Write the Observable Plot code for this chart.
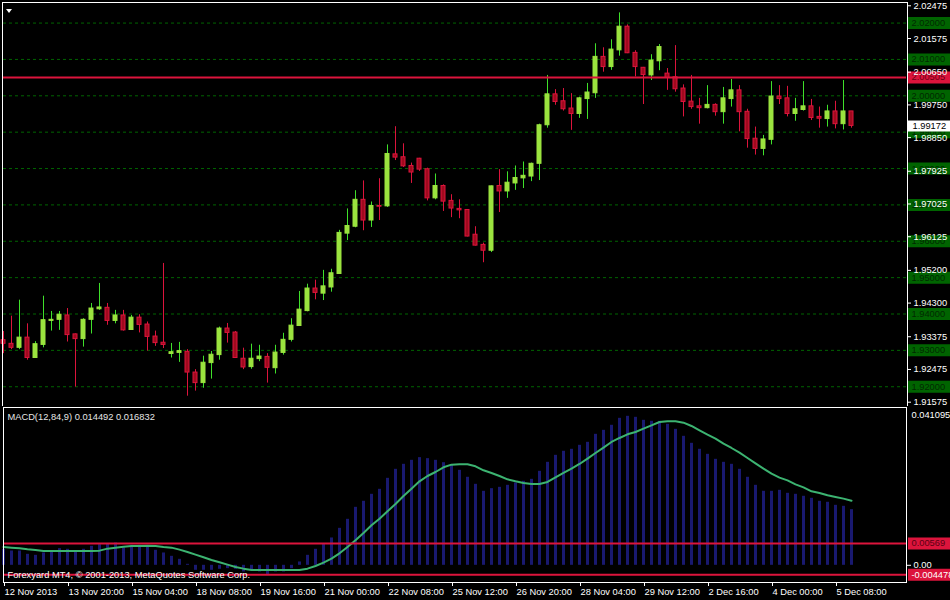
<!DOCTYPE html>
<html><head><meta charset="utf-8">
<script src="https://cdn.jsdelivr.net/npm/d3@7"></script>
<script src="https://cdn.jsdelivr.net/npm/@observablehq/plot@0.6"></script>
<style>
html,body{margin:0;padding:0;background:#000;}
#wrap{position:relative;width:950px;height:600px;background:#000;overflow:hidden;}
#wrap svg{position:absolute;left:0;display:block;}
#tri{position:absolute;left:6px;top:9px;width:0;height:0;border-left:3.5px solid transparent;border-right:3.5px solid transparent;border-top:4px solid #fff;z-index:5;}
</style></head>
<body><div id="wrap"><div id="tri"></div></div>
<script>
// ---- data (4H candles, Forexyard MT4) ----
const opens = [1.9328,1.9318,1.9307,1.9335,1.9279,1.9315,1.9381,1.9384,1.9396,1.9344,1.9331,1.9384,1.9413,1.9417,1.9381,1.9396,1.9356,1.9390,1.9371,1.9338,1.9321,1.9290,1.9293,1.9296,1.9239,1.9210,1.9265,1.9287,1.9360,1.9349,1.9277,1.9254,1.9276,1.9282,1.9251,1.9293,1.9329,1.9367,1.9408,1.9470,1.9456,1.9473,1.9510,1.9621,1.9640,1.9714,1.9657,1.9697,1.9696,1.9839,1.9831,1.9807,1.9827,1.9798,1.9718,1.9752,1.9711,1.9689,1.9686,1.9618,1.9590,1.9574,1.9752,1.9737,1.9759,1.9773,1.9778,1.9813,1.9919,2.0004,1.9985,1.9965,1.9950,1.9991,2.0007,2.0107,2.0079,2.0125,2.0190,2.0118,2.0077,2.0056,2.0095,2.0061,2.0051,2.0020,1.9984,1.9971,1.9966,1.9975,1.9955,1.9991,2.0015,1.9956,1.9882,1.9854,1.9879,1.9998,1.9993,1.9950,1.9961,1.9971,1.9942,1.9936,1.9957,1.9922,1.9957];
const highs = [1.9352,1.9394,1.9438,1.9373,1.9324,1.9449,1.9407,1.9407,1.9415,1.9345,1.9387,1.9429,1.9484,1.9429,1.9410,1.9410,1.9396,1.9398,1.9378,1.9353,1.9539,1.9319,1.9322,1.9302,1.9247,1.9284,1.9297,1.9364,1.9374,1.9352,1.9306,1.9317,1.9314,1.9291,1.9314,1.9347,1.9387,1.9462,1.9482,1.9493,1.9520,1.9523,1.9630,1.9689,1.9739,1.9766,1.9708,1.9772,1.9865,1.9915,1.9868,1.9815,1.9828,1.9801,1.9785,1.9755,1.9728,1.9714,1.9687,1.9640,1.9595,1.9752,1.9797,1.9791,1.9807,1.9818,1.9815,1.9922,2.0056,2.0017,2.0020,2.0006,1.9996,2.0034,2.0143,2.0132,2.0154,2.0228,2.0195,2.0124,2.0078,2.0113,2.0141,2.0075,2.0138,2.0030,2.0056,1.9993,2.0028,1.9978,2.0023,2.0045,2.0028,1.9963,1.9914,1.9891,2.0039,2.0028,2.0026,1.9993,2.0039,1.9990,1.9969,1.9974,1.9985,2.0042,1.9957];
const lows = [1.9291,1.9302,1.9302,1.9273,1.9278,1.9307,1.9353,1.9355,1.9323,1.9199,1.9309,1.9345,1.9410,1.9369,1.9373,1.9353,1.9355,1.9348,1.9298,1.9311,1.9305,1.9279,1.9267,1.9174,1.9188,1.9196,1.9221,1.9273,1.9320,1.9278,1.9247,1.9248,1.9269,1.9210,1.9235,1.9287,1.9323,1.9366,1.9406,1.9439,1.9437,1.9460,1.9509,1.9602,1.9637,1.9629,1.9638,1.9657,1.9693,1.9822,1.9803,1.9759,1.9792,1.9711,1.9714,1.9682,1.9665,1.9662,1.9612,1.9587,1.9541,1.9569,1.9679,1.9718,1.9740,1.9745,1.9764,1.9767,1.9911,1.9974,1.9958,1.9905,1.9938,1.9935,1.9993,2.0065,2.0070,2.0109,2.0116,2.0052,1.9976,2.0042,2.0069,2.0015,2.0010,1.9942,1.9963,1.9922,1.9964,1.9944,1.9922,1.9969,1.9901,1.9856,1.9837,1.9835,1.9865,1.9976,1.9942,1.9930,1.9958,1.9932,1.9911,1.9914,1.9909,1.9906,1.9911];
const closes = [1.9318,1.9307,1.9335,1.9279,1.9317,1.9383,1.9384,1.9398,1.9342,1.9331,1.9384,1.9415,1.9418,1.9381,1.9396,1.9355,1.9390,1.9370,1.9337,1.9320,1.9315,1.9295,1.9298,1.9239,1.9210,1.9266,1.9288,1.9360,1.9348,1.9279,1.9253,1.9277,1.9283,1.9252,1.9294,1.9329,1.9368,1.9412,1.9470,1.9458,1.9476,1.9512,1.9623,1.9642,1.9714,1.9657,1.9697,1.9695,1.9840,1.9830,1.9806,1.9789,1.9797,1.9718,1.9752,1.9709,1.9690,1.9685,1.9613,1.9588,1.9574,1.9751,1.9737,1.9761,1.9774,1.9780,1.9813,1.9919,2.0004,1.9983,1.9963,1.9950,1.9993,2.0009,2.0107,2.0079,2.0127,2.0190,2.0117,2.0079,2.0057,2.0097,2.0134,2.0049,2.0018,1.9983,1.9969,1.9966,1.9975,1.9955,1.9993,2.0015,1.9955,1.9881,1.9854,1.9880,1.9998,1.9991,1.9950,1.9963,1.9971,1.9939,1.9937,1.9957,1.9922,1.9957,1.99172];

const macdHist = [0.00417,0.00373,0.00373,0.00286,0.00260,0.00321,0.00347,0.00434,0.00417,0.00347,0.00417,0.00495,0.00538,0.00564,0.00582,0.00451,0.00521,0.00521,0.00477,0.00391,0.00321,0.00234,0.00156,0.00026,-0.00130,-0.00130,-0.00130,-0.00104,-0.00087,-0.00104,-0.00174,-0.00148,-0.00174,-0.00243,-0.00174,-0.00174,-0.00087,0.00087,0.00260,0.00417,0.00547,0.00712,0.00963,0.01198,0.01510,0.01667,0.01849,0.01979,0.02265,0.02500,0.02630,0.02734,0.02804,0.02778,0.02734,0.02673,0.02604,0.02474,0.02292,0.02109,0.01927,0.01996,0.02031,0.02083,0.02144,0.02187,0.02239,0.02448,0.02682,0.02864,0.02969,0.03021,0.03125,0.03203,0.03411,0.03515,0.03646,0.03828,0.03880,0.03854,0.03776,0.03750,0.03750,0.03672,0.03541,0.03359,0.03177,0.03021,0.02890,0.02760,0.02682,0.02630,0.02500,0.02292,0.02083,0.01927,0.01927,0.01953,0.01875,0.01849,0.01797,0.01745,0.01667,0.01641,0.01562,0.01536,0.014492];
const macdSignal = [0.00477,0.00460,0.00443,0.00417,0.00399,0.00373,0.00373,0.00373,0.00373,0.00373,0.00373,0.00373,0.00382,0.00434,0.00460,0.00486,0.00503,0.00503,0.00512,0.00503,0.00477,0.00460,0.00408,0.00347,0.00278,0.00208,0.00139,0.00078,0.00017,-0.00043,-0.00087,-0.00122,-0.00122,-0.00122,-0.00122,-0.00122,-0.00122,-0.00122,-0.00087,-0.00017,0.00069,0.00174,0.00312,0.00477,0.00651,0.00842,0.01042,0.01215,0.01406,0.01597,0.01805,0.01996,0.02187,0.02326,0.02430,0.02552,0.02621,0.02630,0.02630,0.02578,0.02474,0.02404,0.02326,0.02239,0.02187,0.02144,0.02118,0.02118,0.02170,0.02292,0.02404,0.02517,0.02639,0.02778,0.02925,0.03064,0.03212,0.03316,0.03411,0.03472,0.03559,0.03646,0.03732,0.03750,0.03750,0.03715,0.03628,0.03515,0.03403,0.03298,0.03168,0.03055,0.02934,0.02795,0.02656,0.02517,0.02387,0.02283,0.02213,0.02109,0.02031,0.01927,0.01884,0.01823,0.01779,0.01736,0.016832];

const timeTickIdx = [0,8,16,24,32,40,48,56,64,72,80,88,96,104];
const timeLabels = ["12 Nov 2013","13 Nov 20:00","15 Nov 04:00","18 Nov 08:00","19 Nov 16:00","21 Nov 00:00","22 Nov 08:00","25 Nov 12:00","26 Nov 20:00","28 Nov 04:00","29 Nov 12:00","2 Dec 16:00","4 Dec 00:00","5 Dec 08:00"];
const priceTicks = [2.02475,2.01575,2.00650,1.99750,1.98850,1.97925,1.97025,1.96125,1.95200,1.94300,1.93375,1.92475,1.91575];
const gridLevels = [2.02,2.01,2.00,1.99,1.98,1.97,1.96,1.95,1.94,1.93,1.92];
const priceLine = [2.00505];
const priceDomain = [1.91484, 2.02538];
const macdDomain = [-0.004478, 0.041095];
const macdLines = [0.00569, -0.00245];
const macdLineLabels = ["0.00569", "-0.004478"];
const macdTitle = `MACD(12,84,9) ${macdHist[macdHist.length-1].toFixed(6)} ${macdSignal[macdSignal.length-1].toFixed(6)}`;
const copyright = "Forexyard MT4, \u00A9 2001-2013, MetaQuotes Software Corp.";

// ---- build ----
const FONT = "'Liberation Sans', Arial, sans-serif";
const BULL_FILL = "#9be33f", BULL_LINE = "#3fe02a", BEAR_FILL = "#a00a1e", BEAR_LINE = "#dc143c";
const bars = opens.map((o, i) => ({i, o, h: highs[i], l: lows[i], c: closes[i], up: closes[i] >= o}));
const xDomain = [0, (906 - 3) / 8];
const lastClose = closes[closes.length - 1];
const boxOpts = {strokeWidth: 12, insetLeft: 905, insetRight: -44};
const style = {background: "#000", color: "#fff", fontFamily: FONT, fontSize: "9.3px", overflow: "visible"};

const main = Plot.plot({
  width: 950, height: 406,
  marginLeft: 3, marginRight: 44, marginTop: 3, marginBottom: 1,
  style,
  color: {type: "identity"},
  x: {domain: xDomain, axis: null},
  y: {domain: priceDomain, axis: null},
  marks: [
    Plot.ruleY(gridLevels, {stroke: "#006400", strokeDasharray: "3,3"}),
    Plot.ruleX(bars, {x: "i", y1: "l", y2: "h", stroke: d => d.up ? BULL_LINE : BEAR_LINE}),
    Plot.rect(bars, {x1: d => d.i - 0.25, x2: d => d.i + 0.25, y1: "o", y2: "c",
      fill: d => d.up ? BULL_FILL : BEAR_FILL, stroke: d => d.up ? BULL_FILL : BEAR_LINE}),
    Plot.ruleY(priceLine, {stroke: "#dc143c", strokeWidth: 2}),
    Plot.ruleY(gridLevels, {stroke: "#006400", ...boxOpts}),
    Plot.text(gridLevels, {y: d => d, text: d => d.toFixed(5), frameAnchor: "right", textAnchor: "start", dx: 5, fill: "#002a00"}),
    Plot.ruleY(priceLine, {stroke: "#dc143c", ...boxOpts}),
    Plot.text(priceLine, {y: d => d, text: d => d.toFixed(5), frameAnchor: "right", textAnchor: "start", dx: 5, fill: "#6a0014"}),
    Plot.axisY({anchor: "right", ticks: priceTicks, tickFormat: d => d.toFixed(5), tickSize: 4, tickPadding: 3, label: null}),
    Plot.ruleY([lastClose], {stroke: "#fff", ...boxOpts, strokeWidth: 11}),
    Plot.text([lastClose], {y: d => d, text: d => d.toFixed(5), frameAnchor: "right", textAnchor: "start", dx: 6, fill: "#000"}),
    Plot.frame({stroke: "#fff", inset: -1})
  ]
});
main.style.top = "0px";

const macdRows = macdHist.map((v, i) => ({i, v, s: macdSignal[i]}));
const sub = Plot.plot({
  width: 950, height: 194,
  marginLeft: 3, marginRight: 44, marginTop: 1, marginBottom: 18,
  style,
  x: {domain: xDomain, axis: null},
  y: {domain: macdDomain, axis: null},
  marks: [
    Plot.ruleX(macdRows, {x: "i", y1: 0, y2: "v", stroke: "#191970", strokeWidth: 3}),
    Plot.line(macdRows, {x: "i", y: "s", stroke: "#3cb371", strokeWidth: 2}),
    Plot.ruleY(macdLines, {stroke: "#dc143c", strokeWidth: 2}),
    Plot.text([macdTitle], {text: d => d, frameAnchor: "top-left", lineAnchor: "middle", dx: 4, dy: 10, fill: "#e6e6e6"}),
    Plot.text([copyright], {text: d => d, frameAnchor: "bottom-left", lineAnchor: "middle", dx: 4, dy: -7, fill: "#fff"}),
    Plot.ruleY(macdLines, {stroke: "#dc143c", ...boxOpts}),
    Plot.text(macdLines, {y: d => d, text: (d, k) => macdLineLabels[k], frameAnchor: "right", textAnchor: "start", dx: 5,
      fill: (d, k) => k === 0 ? "#5a0012" : "#fff"}),
    Plot.axisY({anchor: "right", ticks: [0], tickFormat: () => "0.00", tickSize: 4, tickPadding: 3, label: null}),
    Plot.text([macdDomain[1]], {y: d => d, text: d => d.toFixed(6), frameAnchor: "right", textAnchor: "start", dx: 5, dy: 8, fill: "#fff"}),
    Plot.axisX({ticks: timeTickIdx, tickFormat: d => timeLabels[timeTickIdx.indexOf(d)], tickSize: 4, tickPadding: 2, textAnchor: "start", dx: 1, label: null}),
    Plot.frame({stroke: "#fff"})
  ]
});
sub.style.top = "406px";

const wrap = document.getElementById("wrap");
wrap.appendChild(main);
wrap.appendChild(sub);
</script>
</body></html>
